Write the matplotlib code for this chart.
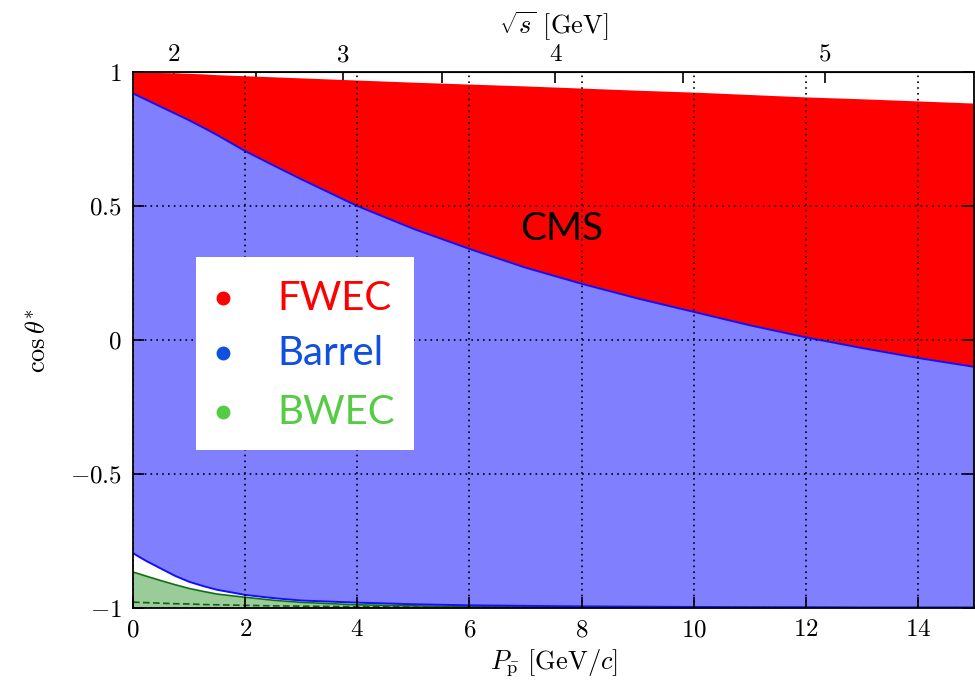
import numpy as np
import matplotlib.pyplot as plt
from matplotlib.patches import Rectangle

plt.rcParams['font.family'] = 'serif'
plt.rcParams['font.serif'] = ['cmr10']
plt.rcParams['mathtext.fontset'] = 'cm'
plt.rcParams['axes.formatter.use_mathtext'] = True

# antiproton momentum [GeV/c]
p_lab = [0, 0.1, 0.25, 0.5, 0.75, 1, 1.25, 1.5, 2, 2.5, 3, 4, 5, 6, 7, 8, 9, 10,
         11, 12, 13, 14, 15]
# upper edge of FWEC acceptance
fwec_top = [1.0, 1.0, 0.999, 0.998, 0.997, 0.995, 0.993, 0.99, 0.986, 0.982, 0.978,
            0.97, 0.962, 0.955, 0.948, 0.94, 0.932, 0.925, 0.916, 0.907, 0.9, 0.892, 0.884]
# barrel / FWEC boundary
barrel_top = [0.92, 0.91, 0.895, 0.87, 0.845, 0.82, 0.793, 0.765, 0.705, 0.652, 0.60,
              0.50, 0.415, 0.34, 0.27, 0.21, 0.155, 0.105, 0.055, 0.01, -0.03, -0.067, -0.10]
# lower edge of barrel
barrel_bot = [-0.795, -0.808, -0.826, -0.853, -0.88, -0.902, -0.918, -0.932, -0.951,
              -0.963, -0.972, -0.98, -0.986, -0.99, -0.992, -0.994, -0.995, -0.996,
              -0.997, -0.997, -0.998, -0.998, -0.998]
# BWEC edges
bwec_top = [-0.866, -0.872, -0.882, -0.898, -0.913, -0.927, -0.938, -0.948, -0.96,
            -0.971, -0.979, -0.988, -0.992, -0.995, -0.996, -0.997, -0.998, -0.998,
            -0.998, -0.999, -0.999, -0.999, -0.999]
bwec_mid = [-0.978, -0.979, -0.98, -0.982, -0.984, -0.985, -0.987, -0.988, -0.99,
            -0.992, -0.993, -0.995, -0.996, -0.997, -0.997, -0.998, -0.998, -0.998,
            -0.998, -0.999, -0.999, -0.999, -0.999]
bwec_bot = [-0.994, -0.995, -0.996, -0.997, -0.998, -0.999, -1.0, -1.0, -1.0, -1.0,
            -1.0, -1.0, -1.0, -1.0, -1.0, -1.0, -1.0, -1.0, -1.0, -1.0, -1.0, -1.0, -1.0]

sqrts_ticks = [2, 3, 4, 5]
sqrts_minor = [2.5, 3.5, 4.5]

legend_names = ['FWEC', 'Barrel', 'BWEC']
legend_colors = ['#ff0000', '#1050e0', '#55cc44']

M_P = 0.938272


def p_to_sqrts(p):
    p = np.asarray(p, dtype=float)
    e = np.sqrt(p ** 2 + M_P ** 2)
    return np.sqrt(2 * M_P ** 2 + 2 * M_P * e)


def sqrts_to_p(w):
    w = np.asarray(w, dtype=float)
    e = (w ** 2 - 2 * M_P ** 2) / (2 * M_P)
    return np.sqrt(np.clip(e ** 2 - M_P ** 2, 0, None))


fig = plt.figure(figsize=(9.75, 6.91), dpi=100)
ax = fig.add_axes([0.1364, 0.1201, 0.8626, 0.7757])

ax.fill_between(p_lab, barrel_top, fwec_top, color='#ff0000', lw=0, zorder=1)
ax.fill_between(p_lab, barrel_bot, barrel_top, color='#8080ff', lw=0, zorder=1)
ax.fill_between(p_lab, bwec_bot, bwec_top, color='#008000', alpha=0.4, lw=0, zorder=1.2)
ax.plot(p_lab, barrel_top, color='#1010ff', lw=1.4, zorder=1.5)
ax.plot(p_lab, barrel_bot, color='#1010ff', lw=1.4, zorder=1.5)
ax.plot(p_lab, bwec_top, color='#107010', lw=1.2, zorder=1.4)
ax.plot(p_lab, bwec_mid, color='#106010', lw=1.2, ls=(0, (4, 2)), zorder=1.4)

ax.set_xlim(0, 15)
ax.set_ylim(-1, 1)
ax.set_xticks(range(0, 16, 2))
ax.set_yticks([-1, -0.5, 0, 0.5, 1])
ax.set_yticklabels(['$-1$', '$-0.5$', '$0$', '$0.5$', '$1$'])
ax.tick_params(direction='in', length=8, width=1.2, labelsize=18,
               top=False, right=True, pad=8)
ax.set_axisbelow(False)
ax.grid(True, color='black', ls=(0, (1, 2.5)), lw=1.2)

for s in ax.spines.values():
    s.set_linewidth(1.3)

ax.set_xlabel(r'$P_{\bar{\mathrm{p}}}$ [GeV/$c$]', fontsize=19, labelpad=4)
ax.set_ylabel(r'$\cos\theta^{*}$', fontsize=19, labelpad=14)

top = ax.secondary_xaxis('top', functions=(p_to_sqrts, sqrts_to_p))
top.set_xticks(sqrts_ticks)
top.set_xticks(sqrts_minor, minor=True)
top.set_xticklabels([str(t) for t in sqrts_ticks])
top.tick_params(which='both', direction='in', length=8, width=1.2, labelsize=18, pad=4)
top.set_xlabel(r'$\sqrt{s}$ [GeV]', fontsize=19, labelpad=7)

# legend box
ax.add_patch(Rectangle((1.12, -0.41), 3.9, 0.72, facecolor='white',
                       edgecolor='none', zorder=3))
rows_y = [0.155, -0.05, -0.27]
for name, col, yy in zip(legend_names, legend_colors, rows_y):
    ax.plot(1.6, yy, 'o', color=col, ms=9, zorder=4)
    ax.text(2.58, yy, name, color=col, fontsize=29, family='Lato',
            va='center', ha='left', zorder=4)

ax.text(7.65, 0.415, 'CMS', color='black', fontsize=28, family='Lato',
        va='center', ha='center', zorder=4)

fig.savefig('out.png', dpi=100)
